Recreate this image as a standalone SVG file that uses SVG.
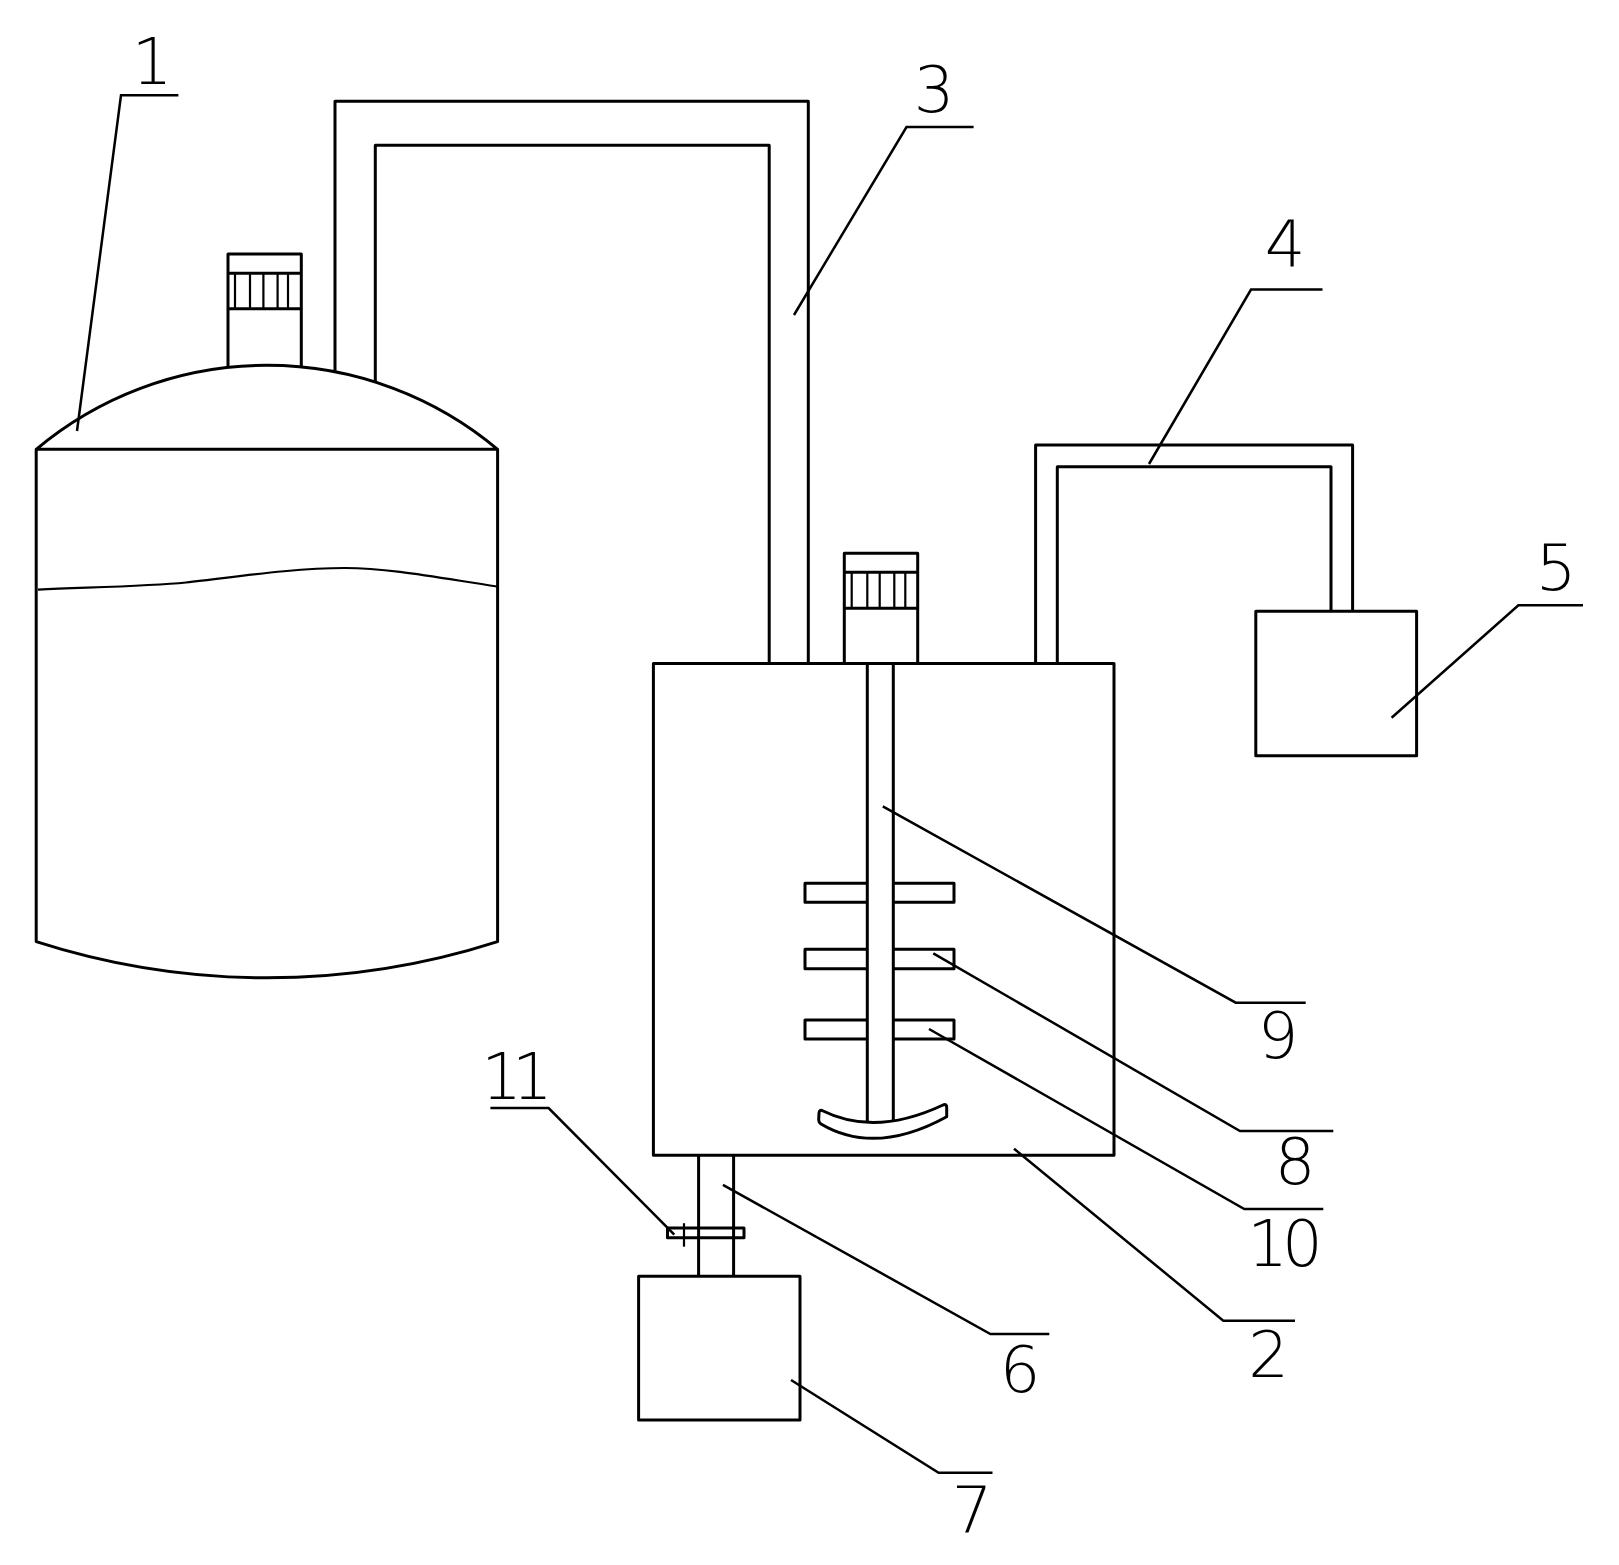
<svg xmlns="http://www.w3.org/2000/svg" width="1619" height="1565" viewBox="0 0 1619 1565">
<style>
.l{fill:none;stroke:#000;stroke-width:3;stroke-linejoin:round}
.t{fill:none;stroke:#000;stroke-width:2.2}
.b{fill:none;stroke:#000;stroke-width:2.5}
.n{font-family:"DejaVu Sans ExtraLight","DejaVu Sans Light","DejaVu Sans",sans-serif;font-weight:200;font-size:64px;fill:#000;text-anchor:middle}
</style>
<rect width="1619" height="1565" fill="#fff"/>
<g id="tank1">
<path class="l" d="M36.2 449.3A358.8 358.8 0 0 1 497.6 449.3M36.2 449.3H497.6V941.6A753 753 0 0 1 36.2 941.6Z"/>
<path class="t" d="M38 589.6C100 587 150 586 186 582.5C230 578 290 568 345 568C390 568 440 578 497 586.5"/>
</g>
<g id="motor1">
<path class="l" d="M228 366.7V254H301.3V366.7M228 273.3H301.3M228 308.7H301.3"/>
<path class="t" d="M235 273.3V308.7M250 273.3V308.7M263.4 273.3V308.7M277.6 273.3V308.7M288 273.3V308.7"/>
</g>
<g id="pipe3"><path class="l" d="M335 370.7V101.3H808.3V663.5M375.3 381.7V145.3H769.2V663.5"/></g>
<g id="tank2"><rect class="l" x="653.4" y="663.5" width="460.6" height="491.8"/></g>
<g id="motor2">
<path class="l" d="M844.3 663.5V553.3H917.7V663.5M844.3 572.3H917.7M844.3 608.3H917.7"/>
<path class="t" d="M851.7 572.3V608.3M867.3 572.3V608.3M879.7 572.3V608.3M894.3 572.3V608.3M905.3 572.3V608.3"/>
</g>
<g id="pipe4"><path class="l" d="M1035.6 663.5V445H1352.6V611.2M1057.3 663.5V466.7H1331V611.2"/></g>
<g id="box5"><rect class="l" x="1255.8" y="611.2" width="160.8" height="144.6"/></g>
<g id="agitator">
<path class="l" d="M867.3 663.5V1122M893.3 663.5V1122"/>
<path class="l" d="M867.3 883.3H805V902.3H867.3M893.3 883.3H954V902.3H893.3M867.3 949.3H805V968.7H867.3M893.3 949.3H954V968.7H893.3M867.3 1020H805V1039H867.3M893.3 1020H954V1039H893.3"/>
<path class="l" d="M822 1110.5Q875 1137 943 1105Q947 1103.500 946.700 1108L946.700 1116.700Q875 1156 821 1124Q818.700 1122.500 818.700 1120L819 1113Q819.500 1109.500 822 1110.500Z"/>
</g>
<g id="pipe6"><path class="l" d="M698.6 1155.300V1276.300M733.600 1155.300V1276.300"/></g>
<g id="valve11">
<rect class="l" x="667.500" y="1228" width="76.500" height="9.700"/>
<path class="t" d="M684 1223.200V1246.700"/>
</g>
<g id="box7"><rect class="l" x="638.600" y="1276.300" width="161.400" height="143.700"/></g>
<g id="connectors">
<path class="b" d="M77 431L121 95.300H178.400"/>
<path class="b" d="M794 315L906.500 127H973.600"/>
<path class="b" d="M1149 464L1251 289.600H1322.500"/>
<path class="b" d="M1391.600 717.800L1518.400 605.300H1583"/>
<path class="b" d="M882.800 806.400L1235.700 1002.700H1305.700"/>
<path class="b" d="M933.300 953.300L1240 1131H1333.300"/>
<path class="b" d="M929 1029L1244.300 1209H1323.300"/>
<path class="b" d="M1014 1148.700L1223.300 1320.700H1295"/>
<path class="b" d="M722.900 1184.800L990.400 1334H1049.300"/>
<path class="b" d="M791 1380L938.600 1472.700H992.500"/>
<path class="b" d="M674.300 1234.600L548.600 1108H490.400"/>
</g>
<g id="labels">
<text class="n" x="152" y="84">1</text>
<text class="n" x="934" y="111.500">3</text>
<text class="n" x="1285" y="265.800">4</text>
<text class="n" x="1556" y="590.400">5</text>
<text class="n" x="1020" y="1392">6</text>
<text class="n" x="972" y="1531.600">7</text>
<text class="n" x="1295" y="1184.300">8</text>
<text class="n" x="1278" y="1058.300">9</text>
<text class="n" x="1282" y="1266" letter-spacing="-6">10</text>
<text class="n" x="512" y="1099" letter-spacing="-10">11</text>
<text class="n" x="1268.700" y="1376.700">2</text>
</g>
</svg>
